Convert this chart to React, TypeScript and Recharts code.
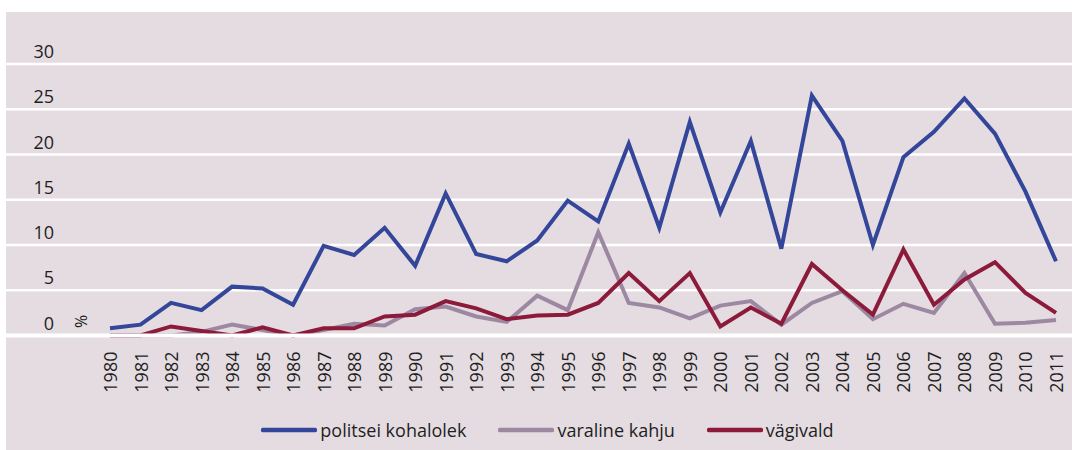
import { LineChart, Line, XAxis, YAxis, CartesianGrid, Legend } from 'recharts'

const years = [
  '1980', '1981', '1982', '1983', '1984', '1985', '1986', '1987', '1988', '1989',
  '1990', '1991', '1992', '1993', '1994', '1995', '1996', '1997', '1998', '1999',
  '2000', '2001', '2002', '2003', '2004', '2005', '2006', '2007', '2008', '2009',
  '2010', '2011'
]

const politsei = [
  0.8, 1.2, 3.6, 2.8, 5.4, 5.2, 3.4, 9.9, 8.9, 11.9,
  7.7, 15.7, 9.0, 8.2, 10.5, 14.9, 12.6, 21.2, 11.9, 23.6,
  13.6, 21.5, 9.6, 26.5, 21.5, 10.0, 19.7, 22.5, 26.2, 22.3,
  15.9, 8.2
]

const varaline = [
  0, 0, 0, 0.4, 1.2, 0.6, 0, 0.6, 1.3, 1.1,
  2.9, 3.2, 2.1, 1.5, 4.4, 2.8, 11.4, 3.6, 3.1, 1.9,
  3.3, 3.8, 1.2, 3.6, 4.9, 1.8, 3.5, 2.5, 6.9, 1.3,
  1.4, 1.7
]

const vagivald = [
  0, 0, 1.0, 0.5, 0, 0.9, 0, 0.8, 0.8, 2.1,
  2.3, 3.8, 3.0, 1.8, 2.2, 2.3, 3.6, 6.9, 3.8, 6.9,
  1.0, 3.1, 1.3, 7.9, 5.0, 2.3, 9.5, 3.4, 6.2, 8.1,
  4.7, 2.5
]

const yTicks = [0, 5, 10, 15, 20, 25, 30]

const series = [
  { key: 'politsei', name: 'politsei kohalolek', color: '#33469a' },
  { key: 'varaline', name: 'varaline kahju', color: '#9d88a2' },
  { key: 'vagivald', name: 'vägivald', color: '#8c1b3b' }
]

const data = years.map((year, i) => ({
  year,
  politsei: politsei[i],
  varaline: varaline[i],
  vagivald: vagivald[i]
}))

const FONT = '"Open Sans", sans-serif'
const TEXT = '#1e1e1e'

const XTick = ({ x, y, payload }: any) => (
  <text
    transform={`translate(${x},${y + 8}) rotate(-90)`}
    textAnchor="end"
    dominantBaseline="central"
    fontSize={18}
    fontFamily={FONT}
    fill={TEXT}
  >
    {payload.value}
  </text>
)

const YTick = ({ x, y, payload }: any) => (
  <text x={x + 56} y={y - 6} textAnchor="end" fontSize={18} fontFamily={FONT} fill={TEXT}>
    {payload.value}
  </text>
)

const PercentLabel = ({ viewBox }: any) => {
  const px = viewBox.x + viewBox.width + 75
  const py = viewBox.y + viewBox.height - 14
  return (
    <text
      transform={`translate(${px},${py}) rotate(-90)`}
      textAnchor="middle"
      dominantBaseline="central"
      fontSize={16}
      fontFamily={FONT}
      fill={TEXT}
    >
      %
    </text>
  )
}

const LegendContent = () => (
  <div
    style={{
      display: 'flex',
      justifyContent: 'center',
      alignItems: 'center',
      height: 24,
      paddingLeft: 23,
      fontFamily: FONT,
      fontSize: 18,
      color: TEXT
    }}
  >
    {series.map(s => (
      <div key={s.key} style={{ display: 'flex', alignItems: 'center', margin: '0 16px' }}>
        <svg width={56} height={6} style={{ marginRight: 3 }}>
          <line x1={2} y1={3} x2={54} y2={3} stroke={s.color} strokeWidth={4.5} strokeLinecap="round" />
        </svg>
        <span>{s.name}</span>
      </div>
    ))}
  </div>
)

export default function App() {
  return (
    <div style={{ position: 'fixed', left: 0, top: 0, width: 1072, height: 450, background: '#ffffff' }}>
      <div style={{ position: 'absolute', left: 6, top: 12, width: 1066, height: 438, background: '#e4dce1' }} />
      <div style={{ position: 'absolute', left: 0, top: 0 }}>
        <LineChart width={1072} height={450} data={data} margin={{ top: 64, right: 0, bottom: 30.5, left: -54 }}>
          <CartesianGrid vertical={false} stroke="#ffffff" strokeWidth={2.5} />
          <XAxis
            dataKey="year"
            interval={0}
            height={60}
            padding={{ left: 104, right: 16 }}
            axisLine={{ stroke: '#ffffff', strokeWidth: 4 }}
            tickLine={false}
            tick={<XTick />}
          />
          <YAxis
            width={60}
            domain={[0, 30]}
            ticks={yTicks}
            axisLine={false}
            tickLine={false}
            tick={<YTick />}
            label={<PercentLabel />}
          />
          <Legend
            verticalAlign="bottom"
            wrapperStyle={{ bottom: 8, left: 0, width: 1072 }}
            content={<LegendContent />}
          />
          {series.map(s => (
            <Line
              key={s.key}
              type="linear"
              dataKey={s.key}
              name={s.name}
              stroke={s.color}
              strokeWidth={4}
              dot={false}
              activeDot={false}
              isAnimationActive={false}
            />
          ))}
        </LineChart>
      </div>
    </div>
  )
}
